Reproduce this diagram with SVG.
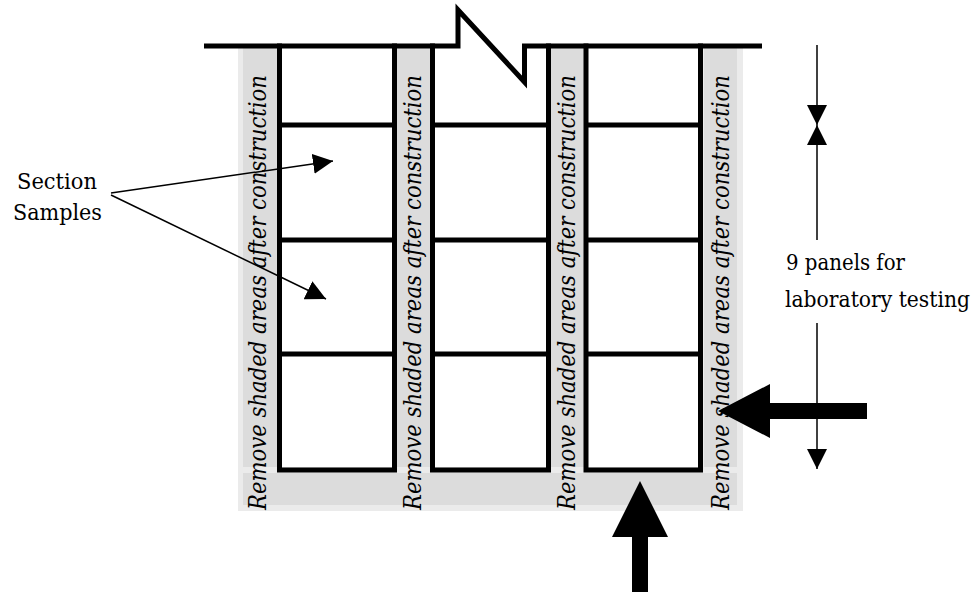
<svg xmlns="http://www.w3.org/2000/svg" width="979" height="592" viewBox="0 0 979 592">
<style>
.light{fill:#ebebeb}
.gray{fill:#dcdcdc}
.white{fill:#ffffff}
.thick{stroke:#000;stroke-width:5;fill:none;stroke-linecap:square}
.thin{stroke:#000;stroke-width:1.5;fill:none}
.rot{font-family:'DejaVu Serif',serif;font-style:italic;font-size:24px;fill:#000}
.lbl{font-family:'DejaVu Serif',serif;font-size:22px;fill:#000}
.blk{fill:#000}
</style>
<defs>
<marker id="ah" viewBox="0 0 20 20" refX="20" refY="10" markerWidth="20" markerHeight="20" markerUnits="userSpaceOnUse" orient="auto">
<path d="M0,0 L20,10 L0,20 Z" fill="#000"/>
</marker>
</defs>
<rect width="979" height="592" fill="#fff"/>
<g id="shading">
<rect class="light" x="238" y="48" width="505" height="463"/>
<rect class="white" x="280" y="48" width="115" height="419"/>
<rect class="white" x="432" y="48" width="117" height="419"/>
<rect class="white" x="586" y="48" width="116" height="419"/>
<rect class="gray" x="243" y="48" width="34" height="419"/>
<rect class="gray" x="397" y="48" width="33" height="419"/>
<rect class="gray" x="551" y="48" width="33" height="419"/>
<rect class="gray" x="704" y="48" width="33" height="419"/>
<rect class="gray" x="243" y="473" width="494" height="32"/>
</g>
<g id="shading-labels">
<text class="rot" transform="translate(266,510) rotate(-90)" textLength="435" lengthAdjust="spacingAndGlyphs">Remove shaded areas after construction</text>
<text class="rot" transform="translate(421,510) rotate(-90)" textLength="435" lengthAdjust="spacingAndGlyphs">Remove shaded areas after construction</text>
<text class="rot" transform="translate(575,510) rotate(-90)" textLength="435" lengthAdjust="spacingAndGlyphs">Remove shaded areas after construction</text>
<text class="rot" transform="translate(729,510) rotate(-90)" textLength="435" lengthAdjust="spacingAndGlyphs">Remove shaded areas after construction</text>
</g>
<g id="top-edge">
<path class="thick" style="stroke-linecap:butt;stroke-linejoin:miter" d="M204,46 H458 V10 L524.5,82 V46 H762"/>
</g>
<g id="column-1">
<path class="thick" d="M279.5,46 V470 H394.5 V46 M279.5,125 H394.5 M279.5,240 H394.5 M279.5,354 H394.5"/>
</g>
<g id="column-2">
<path class="thick" d="M432.5,46 V470 H548.5 V46 M432.5,125 H548.5 M432.5,240 H548.5 M432.5,354 H548.5"/>
</g>
<g id="column-3">
<path class="thick" d="M586,46 V470 H700.5 V46 M586,125 H700.5 M586,240 H700.5 M586,354 H700.5"/>
</g>
<g id="section-samples-label">
<text class="lbl" x="17" y="189" textLength="80" lengthAdjust="spacingAndGlyphs">Section</text>
<text class="lbl" x="13" y="220" textLength="89" lengthAdjust="spacingAndGlyphs">Samples</text>
</g>
<g id="panels-label">
<text class="lbl" x="786" y="270" textLength="119" lengthAdjust="spacingAndGlyphs">9 panels for</text>
<text class="lbl" x="785" y="307" textLength="185" lengthAdjust="spacingAndGlyphs">laboratory testing</text>
</g>
<g id="connectors">
<line class="thin" x1="111" y1="193" x2="333" y2="161" marker-end="url(#ah)"/>
<line class="thin" x1="111" y1="195" x2="326" y2="299" marker-end="url(#ah)"/>
<line class="thin" x1="817" y1="45" x2="817" y2="125" marker-end="url(#ah)"/>
<line class="thin" x1="817" y1="240" x2="817" y2="125" marker-end="url(#ah)"/>
<line class="thin" x1="817" y1="323" x2="817" y2="469" marker-end="url(#ah)"/>
<path class="blk" d="M718,411 L770,384 L770,403 L867,403 L867,419 L770,419 L770,438 Z"/>
<path class="blk" d="M640,481 L668,537 L648,537 L648,592 L632,592 L632,537 L612,537 Z"/>
</g>
</svg>
